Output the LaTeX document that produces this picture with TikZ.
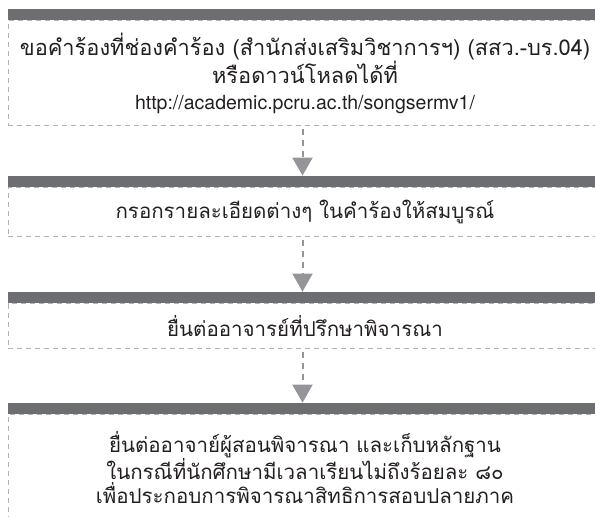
\documentclass[tikz,border=0pt]{standalone}
\usepackage{fontspec}
\setmainfont{TeX Gyre Heros}
\newfontfamily\thaifont[Script=Thai]{Loma}
\usetikzlibrary{
    arrows.meta,
    positioning
}
\definecolor{barGray}{HTML}{6D6E71}
\definecolor{frameGray}{HTML}{B1B3B6}
\definecolor{arrowGray}{HTML}{939598}
\definecolor{textBlack}{HTML}{231F20}
\tikzset{
    stepbody/.style = {
        rectangle,
        draw=frameGray,
        line width=1pt,
        dash pattern=on 5pt off 4pt,
        minimum width=594pt,
        inner sep=0pt,
        align=center,
        text=textBlack,
        font=\thaifont\fontsize{20.5pt}{25pt}\selectfont
    },
    stepbar/.style = {
        rectangle,
        fill=barGray,
        minimum width=594pt,
        minimum height=11pt,
        inner sep=0pt
    },
    flowarrow/.style = {
        draw=arrowGray,
        line width=2pt,
        dash pattern=on 6pt off 5pt,
        shorten <=3pt,
        -{Triangle[width=20pt,length=18pt]}
    }
}

\begin{document}
\begin{tikzpicture}
\useasboundingbox (0,0) rectangle (595pt,-517pt);
\node[stepbody, minimum height=105pt, font=\thaifont\fontsize{21.8pt}{26pt}\selectfont]
    (req) at (305pt,-73pt)
    {ขอคำร้องที่ช่องคำร้อง (สำนักส่งเสริมวิชาการฯ) (สสว.-บร.04)\\
     หรือดาวน์โหลดได้ที่\\
     \rmfamily\fontsize{19.5pt}{26pt}\selectfont http://academic.pcru.ac.th/songsermv1/};
\node[stepbody, minimum height=49pt, below=61pt of req] (fill)
    {กรอกรายละเอียดต่างๆ ในคำร้องให้สมบูรณ์};
\node[stepbody, minimum height=45pt, below=66pt of fill] (advisor)
    {ยื่นต่ออาจารย์ที่ปรึกษาพิจารณา};
\node[stepbody, minimum height=106pt, below=65pt of advisor,
      font=\thaifont\fontsize{20.5pt}{24pt}\selectfont] (teacher)
    {ยื่นต่ออาจาย์ผู้สอนพิจารณา และเก็บหลักฐาน\\
     ในกรณีที่นักศึกษามีเวลาเรียนไม่ถึงร้อยละ ๘๐\\
     เพื่อประกอบการพิจารณาสิทธิการสอบปลายภาค};
% top bars
\node[stepbar, above=0pt of req] (reqbar) {};
\node[stepbar, above=0pt of fill] (fillbar) {};
\node[stepbar, above=0pt of advisor] (advisorbar) {};
\node[stepbar, above=0pt of teacher] (teacherbar) {};
% arrows
\draw[flowarrow] ([xshift=-2.5pt]req.south) -- ([xshift=-2.5pt]fillbar.north);
\draw[flowarrow] ([xshift=-2.5pt]fill.south) -- ([xshift=-2.5pt]advisorbar.north);
\draw[flowarrow] ([xshift=-2.5pt]advisor.south) -- ([xshift=-2.5pt]teacherbar.north);
\end{tikzpicture}
\end{document}
